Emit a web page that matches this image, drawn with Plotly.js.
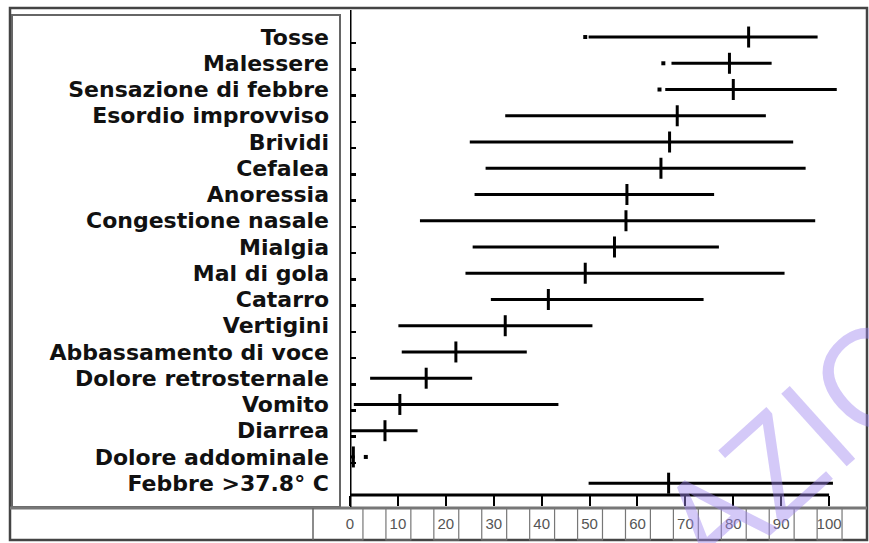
<!DOCTYPE html>
<html>
<head>
<meta charset="utf-8">
<script src="https://cdn.plot.ly/plotly-3.0.1.min.js"></script>
<style>html,body{margin:0;padding:0;background:#fff;}#chart{width:869px;height:543px;}</style>
</head>
<body>
<div id="chart"></div>
<script>
// ---- data ----
const categories = ['Tosse','Malessere','Sensazione di febbre','Esordio improvviso','Brividi','Cefalea','Anoressia','Congestione nasale','Mialgia','Mal di gola','Catarro','Vertigini','Abbassamento di voce','Dolore retrosternale','Vomito','Diarrea','Dolore addominale','Febbre >37.8° C'];
const lowVals    = [49.8, 67.1, 65.8, 32.4, 25.0, 28.3, 26.0, 14.6, 25.6, 24.1, 29.4, 10.1, 10.8, 4.2, 0.8, 0.0, 0.0, 49.8];
const medianVals = [83.2, 79.2, 80.0, 68.3, 66.7, 64.9, 57.8, 57.6, 55.2, 49.1, 41.4, 32.4, 22.1, 15.9, 10.4, 7.3, 0.7, 66.5];
const highVals   = [97.6, 88.0, 101.6, 86.8, 92.5, 95.1, 76.0, 97.1, 77.0, 90.7, 73.8, 50.6, 36.9, 25.5, 43.5, 14.1, 1.0, 100.8];
const dotCats = ['Tosse','Malessere','Sensazione di febbre','Dolore addominale'];
const dotVals = [49.1, 65.4, 64.6, 3.3];
const tickValues = [0,10,20,30,40,50,60,70,80,90,100];
const tickLabels = ['0','10','20','30','40','50','60','70','80','90','100'];

// ---- build traces ----
const idx = categories.map((c,i)=>i);
const rangeX = [], rangeY = [];
categories.forEach((c,i)=>{ rangeX.push(lowVals[i], highVals[i], null); rangeY.push(i, i, null); });

const traces = [
  {x: rangeX, y: rangeY, mode:'lines', line:{color:'#000', width:3}, hoverinfo:'skip', showlegend:false},
  {x: medianVals, y: idx, mode:'markers', marker:{symbol:'line-ns', size:15, line:{color:'#000', width:3}}, showlegend:false},
  {x: dotVals, y: dotCats.map(c=>categories.indexOf(c)), mode:'markers', marker:{symbol:'square', size:4, color:'#000'}, showlegend:false}
];

// ---- layout helpers (pixel -> paper) ----
const L = 350, T = 10, W = 516, H = 485;
const PX = p => (p - L) / W;
const PY = p => (T + H - p) / H;

const shapes = [
  {type:'rect', xref:'paper', yref:'paper', x0:PX(10), x1:PX(867), y0:PY(540), y1:PY(8), line:{color:'#444', width:2.5}},
  {type:'rect', xref:'paper', yref:'paper', x0:PX(12), x1:PX(340), y0:PY(507), y1:PY(15), line:{color:'#666', width:2}},
  {type:'line', xref:'paper', yref:'paper', x0:PX(10), x1:PX(867), y0:PY(508), y1:PY(508), line:{color:'#777', width:3}},
  {type:'line', xref:'paper', yref:'paper', x0:PX(313), x1:PX(313), y0:PY(508), y1:PY(540), line:{color:'#666', width:1.5}},
  {type:'line', xref:'x', yref:'paper', x0:0, x1:0, y0:PY(507), y1:PY(10), line:{color:'#000', width:3}},
  {type:'line', xref:'x', yref:'paper', x0:0, x1:100, y0:PY(495), y1:PY(495), line:{color:'#000', width:3}}
];
tickValues.forEach(v=>{
  shapes.push({type:'rect', xref:'x', yref:'paper', x0:v-2.5, x1:v+2.7, y0:PY(540), y1:PY(508), line:{color:'#777', width:1.2}});
});

const layout = {
  width:869, height:543,
  margin:{l:L, r:869-L-W, t:T, b:543-T-H, pad:0, autoexpand:false},
  paper_bgcolor:'#fff', plot_bgcolor:'#fff',
  showlegend:false,
  xaxis:{range:[0,107.7], tickmode:'array', tickvals:tickValues, ticktext:tickLabels,
         ticks:'outside', ticklen:10, tickwidth:2, tickcolor:'#000',
         showgrid:false, zeroline:false, showline:false, ticklabelstandoff:5,
         tickfont:{family:'Liberation Sans, Arial, sans-serif', size:15, color:'#555'}},
  yaxis:{range:[17.45,-1.03], tickmode:'array', tickvals:idx, ticktext:categories,
         ticks:'', showgrid:false, zeroline:false, showline:false, ticklabelstandoff:20,
         tickfont:{family:'DejaVu Sans, sans-serif', size:22, color:'#111', weight:'bold'},
         minor:{tickmode:'array', tickvals:idx.slice(0,17).map(i=>i+0.23), ticks:'inside', ticklen:6, tickwidth:2.5, tickcolor:'#000', showgrid:false}},
  shapes: shapes,
  annotations:[
    {text:'AZIONE', xref:'paper', yref:'paper', x:PX(860), y:PY(383), xanchor:'center', yanchor:'middle', showarrow:false,
     textangle:-42, font:{family:'Open Sans, sans-serif', size:137, color:'rgba(160,135,240,0.45)', weight:400}}
  ]
};

Plotly.newPlot('chart', traces, layout, {displayModeBar:false, staticPlot:true});
</script>
</body>
</html>
